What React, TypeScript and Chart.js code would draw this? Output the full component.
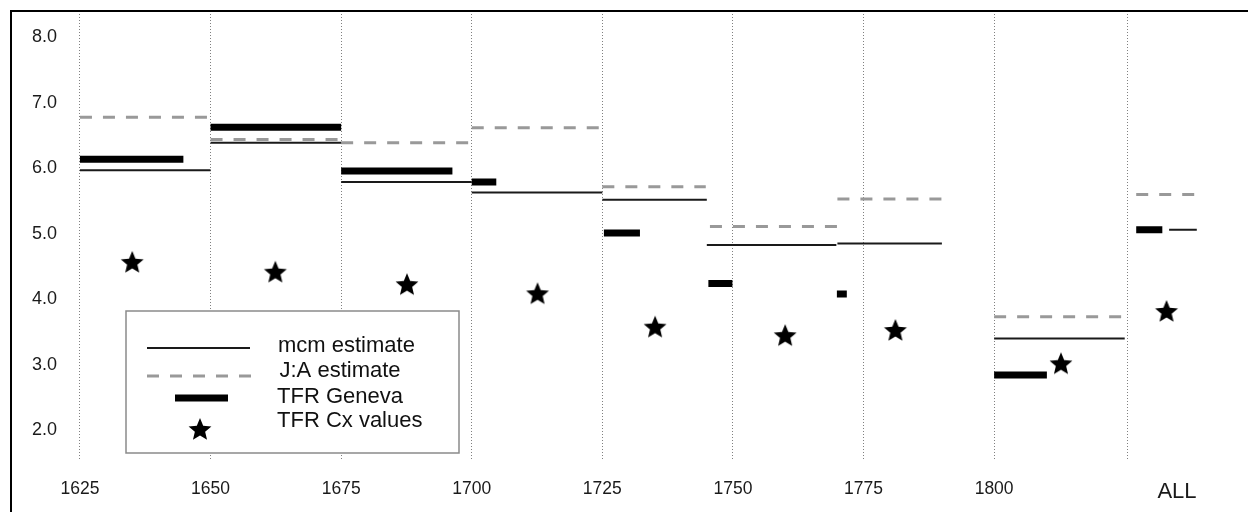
import React, { useEffect, useRef } from 'react';
import { Chart, registerables } from 'chart.js';

Chart.register(...registerables);

// ---- data ----
const xTickValues = [1625, 1650, 1675, 1700, 1725, 1750, 1775, 1800, 1825.5, 1835];
const xTickLabels = ['1625', '1650', '1675', '1700', '1725', '1750', '1775', '1800', '', 'ALL'];

const mcmStart = [1625, 1650, 1675, 1700, 1725, 1745, 1770, 1800, 1833.5];
const mcmEnd = [1650, 1675, 1700, 1725, 1745, 1769.8, 1790, 1825, 1838.8];
const mcmValue = [5.97, 6.39, 5.79, 5.63, 5.52, 4.83, 4.85, 3.4, 5.06];

const jaStart = [1625, 1650, 1675, 1700, 1725, 1745.6, 1770, 1800, 1827.2];
const jaEnd = [1650, 1675, 1700, 1725, 1744.8, 1770, 1790, 1825, 1838.7];
const jaValue = [6.78, 6.44, 6.39, 6.62, 5.72, 5.11, 5.53, 3.73, 5.6];

const genevaStart = [1625, 1650, 1675, 1700, 1725.3, 1745.3, 1769.9, 1800, 1827.2];
const genevaEnd = [1644.8, 1675, 1696.3, 1704.7, 1732.2, 1749.9, 1771.8, 1810.1, 1832.2];
const genevaValue = [6.14, 6.63, 5.96, 5.79, 5.01, 4.24, 4.08, 2.84, 5.06];

const cxYear = [1635.0, 1662.4, 1687.6, 1712.6, 1735.1, 1760.0, 1781.1, 1812.8, 1833.0];
const cxValue = [4.57, 4.42, 4.23, 4.09, 3.58, 3.45, 3.53, 3.02, 3.82];

const legendLabels = ['mcm estimate', 'J:A estimate', 'TFR Geneva', 'TFR Cx values'];

const X_MIN = 1611.8;
const X_MAX = 1848.6;
const Y_MIN = 1.542;
const Y_MAX = 8.405;

const FONT = 'Liberation Sans, Arial, Helvetica, sans-serif';

function segments(starts: number[], ends: number[], values: number[]) {
  const pts: { x: number; y: number | null }[] = [];
  starts.forEach((s, i) => {
    pts.push({ x: s, y: values[i] }, { x: ends[i], y: values[i] }, { x: ends[i], y: null });
  });
  return pts;
}

function makeStar(): HTMLCanvasElement {
  const c = document.createElement('canvas');
  c.width = 26;
  c.height = 26;
  const g = c.getContext('2d')!;
  const R = 12;
  const r = 5.4;
  const cx = 13;
  const cy = 14.1;
  g.beginPath();
  for (let i = 0; i < 10; i++) {
    const rad = i % 2 === 0 ? R : r;
    const a = -Math.PI / 2 + (i * Math.PI) / 5;
    const px = cx + rad * Math.cos(a);
    const py = cy + rad * Math.sin(a);
    if (i === 0) g.moveTo(px, py);
    else g.lineTo(px, py);
  }
  g.closePath();
  g.fillStyle = '#000';
  g.fill();
  return c;
}

function noPad(s: any) {
  s.paddingTop = 0;
  s.paddingBottom = 0;
  s.paddingLeft = 0;
  s.paddingRight = 0;
}

export default function App() {
  const ref = useRef<HTMLCanvasElement>(null);

  useEffect(() => {
    const canvas = ref.current!;
    const star = makeStar();

    const boxLegend = {
      id: 'boxLegend',
      afterDatasetsDraw(chart: any) {
        const { ctx, chartArea } = chart;
        const L = chartArea.left;
        const T = chartArea.top;
        ctx.save();
        const bx = L + 115;
        const by = T + 300;
        const bw = 333;
        const bh = 142;
        ctx.fillStyle = '#fff';
        ctx.fillRect(bx, by, bw, bh);
        ctx.strokeStyle = '#8a8a8a';
        ctx.lineWidth = 1.5;
        ctx.strokeRect(bx, by, bw, bh);

        // mcm sample
        ctx.lineCap = 'butt';
        ctx.strokeStyle = '#1a1a1a';
        ctx.lineWidth = 2;
        ctx.setLineDash([]);
        ctx.beginPath();
        ctx.moveTo(L + 136, T + 337);
        ctx.lineTo(L + 239, T + 337);
        ctx.stroke();

        // J:A sample
        ctx.strokeStyle = '#999';
        ctx.lineWidth = 3;
        ctx.setLineDash([12, 11]);
        ctx.beginPath();
        ctx.moveTo(L + 136, T + 365);
        ctx.lineTo(L + 241, T + 365);
        ctx.stroke();

        // Geneva sample
        ctx.setLineDash([]);
        ctx.strokeStyle = '#000';
        ctx.lineWidth = 7;
        ctx.beginPath();
        ctx.moveTo(L + 164, T + 387);
        ctx.lineTo(L + 217, T + 387);
        ctx.stroke();

        // star sample
        ctx.drawImage(star, L + 189 - star.width / 2, T + 418 - star.height / 2);

        ctx.fillStyle = '#111';
        ctx.font = `22px ${FONT}`;
        ctx.textBaseline = 'alphabetic';
        ctx.textAlign = 'left';
        const ys = [340.7, 365.7, 392.3, 415.7];
        const xs = [267, 268.5, 266, 266];
        legendLabels.forEach((t, i) => ctx.fillText(t, L + xs[i], T + ys[i]));
        ctx.restore();
      },
    };

    const frameExt = {
      id: 'frameExt',
      afterDraw(chart: any) {
        const { ctx, chartArea } = chart;
        ctx.save();
        ctx.strokeStyle = '#000';
        ctx.lineWidth = 2;
        ctx.beginPath();
        ctx.moveTo(chartArea.left, chartArea.bottom);
        ctx.lineTo(chartArea.left, chart.height);
        ctx.stroke();
        ctx.restore();
      },
    };

    const chart = new Chart(canvas, {
      type: 'line',
      data: {
        datasets: [
          {
            label: 'mcm estimate',
            data: segments(mcmStart, mcmEnd, mcmValue) as any,
            borderColor: '#1a1a1a',
            borderWidth: 2,
            pointRadius: 0,
            spanGaps: false,
            tension: 0,
            borderCapStyle: 'butt',
          },
          {
            label: 'J:A estimate',
            data: segments(jaStart, jaEnd, jaValue) as any,
            borderColor: '#999',
            borderWidth: 3,
            borderDash: [12, 11],
            pointRadius: 0,
            spanGaps: false,
            tension: 0,
            borderCapStyle: 'butt',
          },
          {
            label: 'TFR Geneva',
            data: segments(genevaStart, genevaEnd, genevaValue) as any,
            borderColor: '#000',
            borderWidth: 7,
            pointRadius: 0,
            spanGaps: false,
            tension: 0,
            borderCapStyle: 'butt',
          },
          {
            label: 'TFR Cx values',
            data: cxYear.map((x, i) => ({ x, y: cxValue[i] })),
            showLine: false,
            pointStyle: star as any,
            pointRadius: 12,
            pointBackgroundColor: '#000',
            borderColor: '#000',
          },
        ],
      },
      options: {
        responsive: false,
        animation: false,
        events: [],
        layout: { autoPadding: false, padding: { left: 11, top: 11, right: 0, bottom: 0 } },
        plugins: { legend: { display: false }, tooltip: { enabled: false } },
        scales: {
          x: {
            type: 'linear',
            position: 'bottom',
            min: X_MIN,
            max: X_MAX,
            afterBuildTicks: (s: any) => {
              s.ticks = xTickValues.map((v) => ({ value: v }));
            },
            afterFit: (s: any) => {
              s.height = 52;
              noPad(s);
            },
            grid: {
              color: (c: any) => (c.index === 9 ? 'rgba(0,0,0,0)' : '#808080'),
              lineWidth: 1,
              drawTicks: false,
            },
            border: { display: false, dash: [1, 2] },
            ticks: {
              autoSkip: false,
              maxRotation: 0,
              padding: 19,
              color: '#1a1a1a',
              font: (c: any) => ({ family: FONT, size: c.index === 9 ? 22 : 17.5 }),
              callback: (_v: any, i: number) => xTickLabels[i],
            },
          },
          x2: {
            type: 'linear',
            position: 'top',
            min: X_MIN,
            max: X_MAX,
            grid: { display: false },
            ticks: { display: false },
            border: { display: true, color: '#000', width: 2 },
            afterFit: (s: any) => {
              s.height = 0;
              noPad(s);
            },
          },
          y: {
            type: 'linear',
            position: 'left',
            min: Y_MIN,
            max: Y_MAX,
            afterFit: (s: any) => {
              s.width = 0;
              noPad(s);
            },
            grid: { display: false },
            border: { display: true, color: '#000', width: 2 },
            ticks: {
              mirror: true,
              padding: 21,
              stepSize: 1,
              includeBounds: false,
              color: '#1a1a1a',
              font: { family: FONT, size: 18 },
              callback: (v: any) => Number(v).toFixed(1),
            },
          },
        },
      } as any,
      plugins: [boxLegend, frameExt],
    });

    return () => chart.destroy();
  }, []);

  return (
    <div style={{ position: 'absolute', left: 0, top: 0, width: 1248, height: 512, background: '#fff' }}>
      <canvas ref={ref} width={1248} height={512} style={{ display: 'block', width: 1248, height: 512 }} />
    </div>
  );
}
